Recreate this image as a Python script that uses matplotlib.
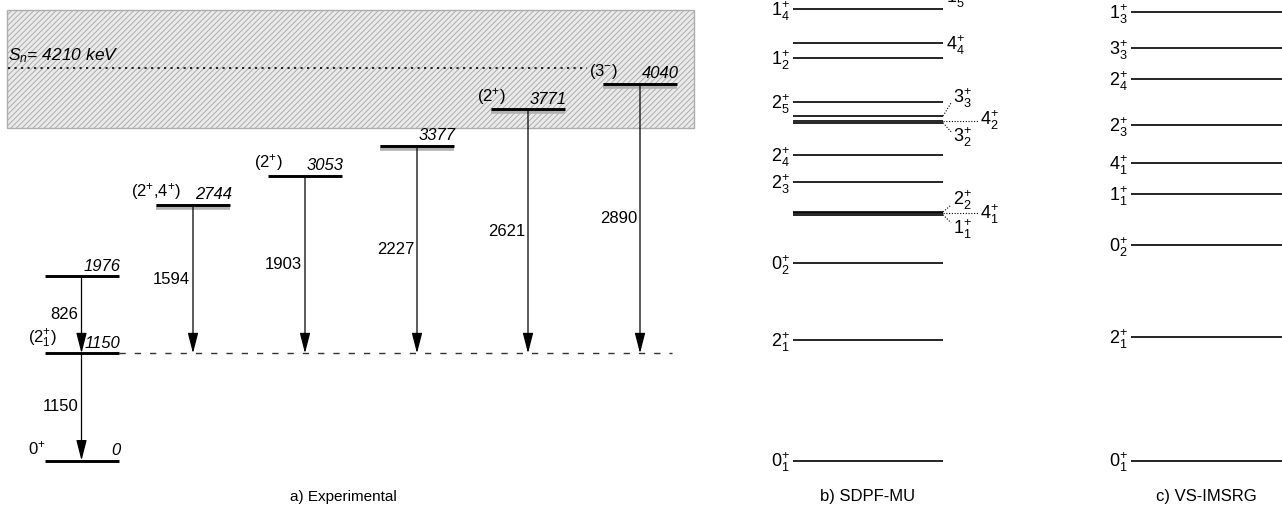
import matplotlib
matplotlib.use('Agg')
import matplotlib.pyplot as plt
from matplotlib.patches import Rectangle

# ------------------------------------------------------------------ data
exp_energies = [0, 1150, 1976, 2744, 3053, 3377, 3771, 4040]
exp_columns = [0, 0, 0, 1, 2, 3, 4, 5]
exp_spins = [r'$0^{+}$', r'$(2^{+}_{1})$', '', r'$(2^{+}$,$4^{+})$', r'$(2^{+})$', '', r'$(2^{+})$', r'$(3^{-})$']
exp_energy_labels = ['0', '1150', '1976', '2744', '3053', '3377', '3771', '4040']
exp_shaded = [False, False, False, True, False, True, True, True]

gamma_from = [1976, 1150, 2744, 3053, 3377, 3771, 4040]
gamma_to = [1150, 0, 1150, 1150, 1150, 1150, 1150]
gamma_energy = [826, 1150, 1594, 1903, 2227, 2621, 2890]

sn_energy = 4210

sdpf_labels = ['0_1', '2_1', '0_2', '1_1', '4_1', '2_2', '2_3', '2_4',
               '3_2', '4_2', '3_3', '2_5', '1_2', '4_4', '1_4', '1_5']
sdpf_energies = [0, 1290, 2119, 2637, 2651, 2666, 2988, 3278,
                 3624, 3639, 3696, 3850, 4319, 4480, 4841, 4984]

vs_labels = ['0_1', '2_1', '0_2', '1_1', '4_1', '2_3', '2_4', '3_3', '1_3']
vs_energies = [0, 1325, 2312, 2863, 3192, 3597, 4097, 4423, 4812]

panel_titles = ['a) Experimental', 'b) SDPF-MU', 'c) VS-IMSRG']

# ------------------------------------------------------------------ style / layout
plt.rcParams['font.family'] = ['Liberation Sans', 'DejaVu Sans']
plt.rcParams['mathtext.fontset'] = 'custom'
plt.rcParams['mathtext.rm'] = 'Liberation Sans'
plt.rcParams['mathtext.it'] = 'Liberation Sans:italic'
plt.rcParams['mathtext.bf'] = 'Liberation Sans:bold'
plt.rcParams['mathtext.default'] = 'regular'
plt.rcParams['hatch.linewidth'] = 0.7

W, H = 1282, 508
K = 0.0932        # px per keV
Z = 460.5         # pixel row of 0 keV


def dE(px):
    """pixel offset (downwards positive) -> keV offset"""
    return -px / K


fig = plt.figure(figsize=(W / 100, H / 100), dpi=100)
ax = fig.add_axes([0, 0, 1, 1])
ax.set_xlim(0, W)
ax.set_ylim(Z / K - H / K, Z / K)
ax.axis('off')

# neutron-separation region (hatched)
box_lo, box_hi = (Z - 128) / K, (Z - 10) / K
ax.add_patch(Rectangle((7, box_lo), 687, box_hi - box_lo, facecolor='#eaeaea',
                       edgecolor='#adadad', hatch='//////', lw=1.0, zorder=0))
ax.plot([8, 587], [sn_energy, sn_energy], color='black', lw=1.2,
        linestyle=(0, (1.3, 2.6)), zorder=2)
ax.text(8, sn_energy + dE(-3), r'$S_n$= 4210 keV', style='italic', fontsize=12.5,
        ha='left', va='bottom')

# ---------------- experimental panel
col_x = [81.5, 193, 305, 417, 528, 640]
half = 37
fs_exp = 12
for E, c, spin, elab, sh in zip(exp_energies, exp_columns, exp_spins,
                                exp_energy_labels, exp_shaded):
    xc = col_x[c]
    if sh:
        ax.plot([xc - half, xc + half], [E + dE(1.8)] * 2, color='#b0b0b0',
                lw=4.0, solid_capstyle='butt', zorder=3)
    ax.plot([xc - half, xc + half], [E, E], color='black', lw=2.1,
            solid_capstyle='butt', zorder=4)
    ax.text(xc + half + 2, E + dE(-2.5), elab, style='italic', fontsize=fs_exp,
            ha='right', va='bottom', zorder=5)
    if spin:
        if c == 0:
            ax.text(28, E + dE(-3), spin, fontsize=fs_exp, ha='left', va='bottom')
        else:
            ax.text(xc - half, E + dE(-2.5), spin, fontsize=fs_exp, ha='center',
                    va='bottom')

ax.hlines(1150, col_x[0] + half, 672, colors='#333333', lw=1.0,
          linestyles=(0, (4.5, 6.5)), zorder=1)

level_col = dict(zip(exp_energies, exp_columns))
for Ef, Et, Eg in zip(gamma_from, gamma_to, gamma_energy):
    xc = col_x[level_col[Ef]]
    ax.annotate('', xy=(xc, Et), xytext=(xc, Ef),
                arrowprops=dict(arrowstyle='-|>,head_length=1.25,head_width=0.32',
                                mutation_scale=10, color='black', lw=0.9,
                                shrinkA=0, shrinkB=0), zorder=4)
    ax.text(xc - 3, (Ef + Et) / 2, str(Eg), fontsize=fs_exp, ha='right',
            va='center')

# ---------------- theory panels
fs_th = 13


def jlab(s):
    j, n = s.split('_')
    return r'$%s^{+}_{%s}$' % (j, n)


# SDPF-MU
sx0, sx1 = 793, 943
right_plain = {'4_4', '1_5'}
right_conn = {  # label -> (label x, label dy px, connector end x, connector end dy)
    '3_3': (953, -18, 951, -13),
    '4_2': (980, -1, 978, 0),
    '3_2': (953, 14, 951, 9),
    '2_2': (953, -12, 951, -7),
    '4_1': (980, 1, 978, 0),
    '1_1': (953, 14, 951, 8),
}
for lab, E in zip(sdpf_labels, sdpf_energies):
    ax.plot([sx0, sx1], [E, E], color='black', lw=1.2, solid_capstyle='butt')
    if lab in right_conn:
        lx, ldy, cx, cdy = right_conn[lab]
        ax.plot([sx1, cx], [E, E + dE(cdy)], color='black', lw=0.8,
                linestyle=(0, (1, 1.5)))
        ax.text(lx, E + dE(ldy), jlab(lab), fontsize=fs_th, ha='left', va='center')
    elif lab in right_plain:
        ax.text(sx1 + 3, E + dE(2), jlab(lab), fontsize=fs_th, ha='left',
                va='center')
    else:
        ax.text(sx0 - 3, E + dE(2), jlab(lab), fontsize=fs_th, ha='right',
                va='center')

# VS-IMSRG
vx0, vx1 = 1131, 1282
for lab, E in zip(vs_labels, vs_energies):
    ax.plot([vx0, vx1], [E, E], color='black', lw=1.2, solid_capstyle='butt')
    ax.text(vx0 - 3, E + dE(2), jlab(lab), fontsize=fs_th, ha='right', va='center')

# panel titles
for t, x, fs in zip(panel_titles, [343, 868, 1206], [11, 12, 12]):
    ax.text(x, (Z - 497) / K, t, fontsize=fs, ha='center', va='center')

fig.savefig('out.png', dpi=100)
